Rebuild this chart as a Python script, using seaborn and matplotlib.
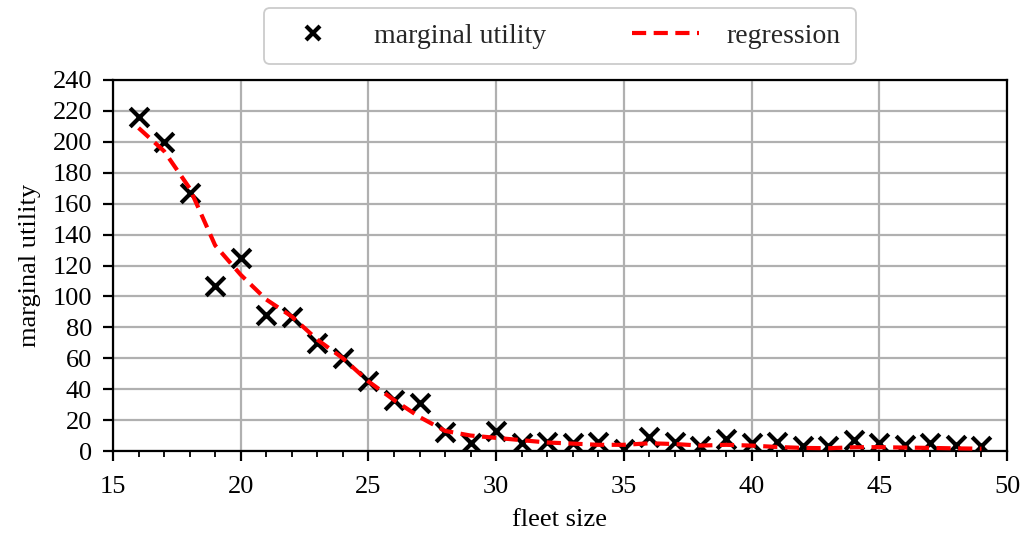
import matplotlib
matplotlib.use("Agg")
import matplotlib.pyplot as plt
from matplotlib.ticker import MultipleLocator
from matplotlib.lines import Line2D
import seaborn as sns
import pandas as pd

fleet_size = list(range(16, 50))
marginal_utility = [216, 200, 167, 107, 125, 88, 87, 70, 60, 45,
                    33, 31, 12, 5, 13, 5, 6, 5, 6, 1,
                    9, 6, 3, 8, 5, 6, 3, 3, 7, 5,
                    4, 5, 4, 3]
regression = [209, 194, 170, 133, 114, 98, 87, 72, 60, 45,
              33, 22, 13, 10, 8.5, 7, 5.5, 4.8, 4, 4,
              5, 4.5, 3.5, 4, 3.5, 2.6, 2, 1.8, 2.4, 2.5,
              2.2, 2, 1.7, 1.5]

df = pd.DataFrame({"fleet size": fleet_size,
                   "marginal utility": marginal_utility,
                   "regression": regression})

sns.set_theme(style="whitegrid")
plt.rcParams['font.family'] = ['Liberation Serif', 'DejaVu Serif']

FS = 19
fig = plt.figure(figsize=(10.32, 5.34), dpi=100)
ax = fig.add_axes([113/1032, 1-451/534, (1007-113)/1032, (451-80)/534])

sns.scatterplot(data=df, x="fleet size", y="marginal utility", marker="x",
                color="black", s=180, linewidth=3, ax=ax, zorder=3, legend=False)
sns.lineplot(data=df, x="fleet size", y="regression", color="red",
             linestyle=(0, (3.4, 1.8)), linewidth=3, ax=ax, zorder=4, legend=False)

ax.set_xlim(15, 50)
ax.set_ylim(0, 240)
ax.xaxis.set_major_locator(MultipleLocator(5))
ax.xaxis.set_minor_locator(MultipleLocator(1))
ax.yaxis.set_major_locator(MultipleLocator(20))

ax.grid(True, which="major", color="#b0b0b0", linewidth=1.6)
ax.grid(False, which="minor")
ax.set_facecolor("white")
for sp in ax.spines.values():
    sp.set_color("black")
    sp.set_linewidth(1.6)
    sp.set_visible(True)
ax.tick_params(axis="both", which="major", direction="out", length=7, width=1.6,
               colors="black", labelsize=FS, bottom=True, left=True)
ax.tick_params(axis="x", which="both", pad=11)
ax.tick_params(axis="y", which="major", pad=8)
ax.tick_params(axis="x", which="minor", direction="out", length=4, width=1.3,
               colors="black", bottom=True)

ax.set_xlabel("fleet size", fontsize=FS, color="black", labelpad=8)
ax.set_ylabel("marginal utility", fontsize=FS, color="black", labelpad=8)

handles = [Line2D([], [], marker="x", color="black", linestyle="none",
                  markersize=10, markeredgewidth=3),
           Line2D([], [], color="red", linewidth=3, linestyle=(0, (3.4, 1.8)))]
leg = ax.legend(handles, ["marginal utility", "regression"],
                loc="lower center", bbox_to_anchor=(0.5, 1.043), ncol=2,
                borderaxespad=0, fontsize=20, frameon=True, fancybox=True,
                framealpha=1, edgecolor="#cccccc", borderpad=0.55,
                columnspacing=3.1, handlelength=2.4, handletextpad=1.0)
leg.get_frame().set_linewidth(1.3)

fig.savefig("out.png", dpi=100, facecolor="white")
